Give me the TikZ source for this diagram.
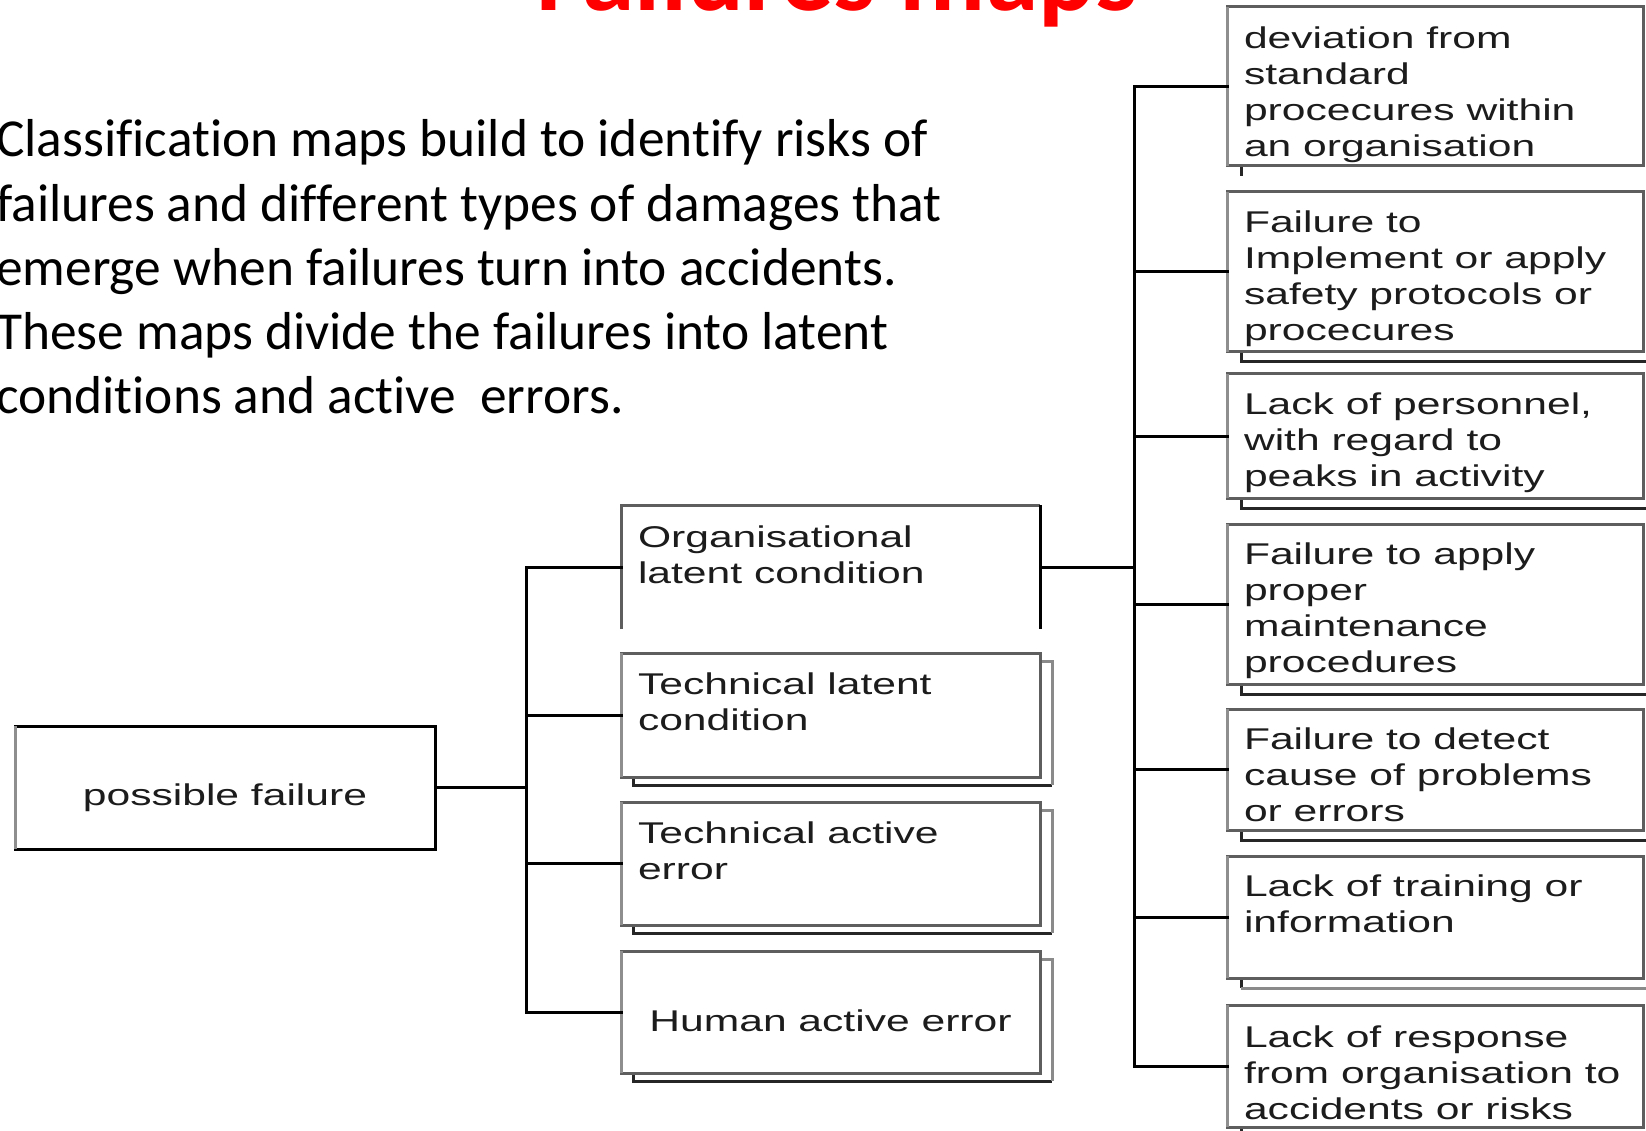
\documentclass[tikz,border=0pt]{standalone}
\usepackage{fontspec}
\usepackage{graphicx}
\usetikzlibrary{calc,backgrounds}
\setmainfont[Ligatures=NoCommon]{Carlito}
\newfontfamily\boxfont{Liberation Sans}
\definecolor{boxgray}{HTML}{5E5E5E}
\definecolor{edgegray}{HTML}{8E8E8E}
\definecolor{shgray}{HTML}{8A8A8A}
\definecolor{txtcol}{HTML}{1C1C1C}
\definecolor{titlered}{HTML}{FF0000}
\newcommand{\bt}[1]{\scalebox{1.42}[1]{\begin{tabular}[t]{@{}l@{}}#1\end{tabular}}}
\begin{document}
\begin{tikzpicture}[x=1pt,y=-1pt,
  conn/.style={draw=black,line width=3pt,line cap=rect},
  boxshape/.style={rectangle,draw=boxgray,fill=white,line width=3pt,inner sep=0pt,outer sep=0pt},
  lbox/.style={boxshape,minimum width=419pt},
  rbox/.style={boxshape,minimum width=416pt},
  ledge/.style={draw=edgegray,line width=3pt},
  btext/.style={inner sep=0pt,outer sep=0pt,text=txtcol,font=\boxfont\fontsize{30}{36}\selectfont},
  shblack/.style={draw=black!85,line width=3pt},
  shgrayline/.style={draw=shgray,line width=3pt}]
\useasboundingbox (0,0) rectangle (1646,1131);

% title and introduction
\node[anchor=base,inner sep=0pt,text=titlered,font=\fontsize{106}{120}\selectfont\bfseries] (title) at (837,11) {Failures maps};
\node[anchor=base west,inner sep=0pt,font=\fontsize{53.4}{64.2}\selectfont] (intro) at (-4,157)
  {\begin{tabular}[t]{@{}l@{}}Classification maps build to identify risks of\\
  failures and different types of damages that\\
  emerge when failures turn into accidents.\\
  These maps divide the failures into latent\\
  conditions and active~ errors.\end{tabular}};

% root
\node[boxshape,draw=black,minimum width=420pt,minimum height=123pt] (pf) at (225,787.5) {};
\node[btext,anchor=base] (pft) at (225,805) {\bt{possible failure}};

% middle column
\node[lbox,draw=none,minimum height=124pt] (org) at (830.5,567) {};
\node[lbox,minimum height=124pt] (tl) at (830.5,715) {};
\node[lbox,minimum height=123pt] (ta) at (830.5,863.5) {};
\node[lbox,minimum height=122pt] (ha) at (830.5,1012) {};
\draw[draw=boxgray,line width=3pt] (org.south west) -- (org.north west) -- (org.north east);
\draw[draw=black,line width=3pt] (org.north east) -- (org.south east);
\node[btext,anchor=base west] (orgt) at (638,547) {\bt{Organisational\\latent condition}};
\node[btext,anchor=base west] (tlt) at (638,694) {\bt{Technical latent\\condition}};
\node[btext,anchor=base west] (tat) at (638,843) {\bt{Technical active\\error}};
\node[btext,anchor=base] (hat) at (830.5,1031) {\bt{Human active error}};

% right column
\node[rbox,minimum height=159pt] (r1) at (1435,86.5) {};
\node[rbox,minimum height=160pt] (r2) at (1435,272) {};
\node[rbox,minimum height=124pt] (r3) at (1435,436) {};
\node[rbox,minimum height=160pt] (r4) at (1435,604) {};
\node[rbox,minimum height=121pt] (r5) at (1435,769.5) {};
\node[rbox,minimum height=122pt] (r6) at (1435,917) {};
\node[rbox,minimum height=122pt] (r7) at (1435,1066) {};
\node[btext,anchor=base west] (r1t) at (1244,48.5) {\bt{deviation from\\standard\\procecures within\\an organisation}};
\node[btext,anchor=base west] (r2t) at (1244,233) {\bt{Failure to\\Implement or apply\\safety protocols or\\procecures}};
\node[btext,anchor=base west] (r3t) at (1244,414) {\bt{Lack of personnel,\\with regard to\\peaks in activity}};
\node[btext,anchor=base west] (r4t) at (1244,564) {\bt{Failure to apply\\proper\\maintenance\\procedures}};
\node[btext,anchor=base west] (r5t) at (1244,749) {\bt{Failure to detect\\cause of problems\\or errors}};
\node[btext,anchor=base west] (r6t) at (1244,896) {\bt{Lack of training or\\information}};
\node[btext,anchor=base west] (r7t) at (1244,1047) {\bt{Lack of response\\from organisation to\\accidents or risks}};

% lighter left edges
\foreach \b in {pf,tl,ta,ha,r1,r2,r3,r4,r5,r6,r7}
  \draw[ledge] (\b.south west) -- (\b.north west);

% shadows behind the boxes
\begin{pgfonlayer}{background}
\fill[white] (0,0) rectangle (1646,1131);
\foreach \b in {tl,ta,ha}{
  \draw[shblack] ($(\b.south west)+(12,0)$) -- ($(\b.south west)+(12,8)$) -- ($(\b.south east)+(12,8)$);
  \draw[shgrayline] ($(\b.south east)+(12,8)$) -- ($(\b.north east)+(12,8)$) -- ($(\b.north east)+(0,8)$);
}
\draw[shblack] ($(r1.south west)+(14,0)$) -- ($(r1.south west)+(14,10)$);
\foreach \b in {r2,r3,r4,r5,r7}
  \draw[shblack] ($(\b.south west)+(14,0)$) -- ($(\b.south west)+(14,10)$) -- ($(\b.south east)+(14,10)$);
\draw[shblack] ($(r6.south west)+(14,0)$) -- ($(r6.south west)+(14,10)$);
\draw[shgrayline] ($(r6.south west)+(14,10)$) -- ($(r6.south east)+(14,10)$);
\end{pgfonlayer}

% connectors
\coordinate (j1) at (526,0);
\coordinate (j2) at (1134,0);
\draw[conn] (pf.east) -- (pf.east -| j1);
\draw[conn] (org.west -| j1) -- (ha.west -| j1);
\foreach \b in {org,tl,ta,ha}
  \draw[conn] (\b.west -| j1) -- (\b.west);
\draw[conn] (org.east) -- (org.east -| j2);
\draw[conn] (r1.west -| j2) -- (r7.west -| j2);
\foreach \b in {r1,r2,r3,r4,r5,r6,r7}
  \draw[conn] (\b.west -| j2) -- (\b.west);
\end{tikzpicture}
\end{document}
